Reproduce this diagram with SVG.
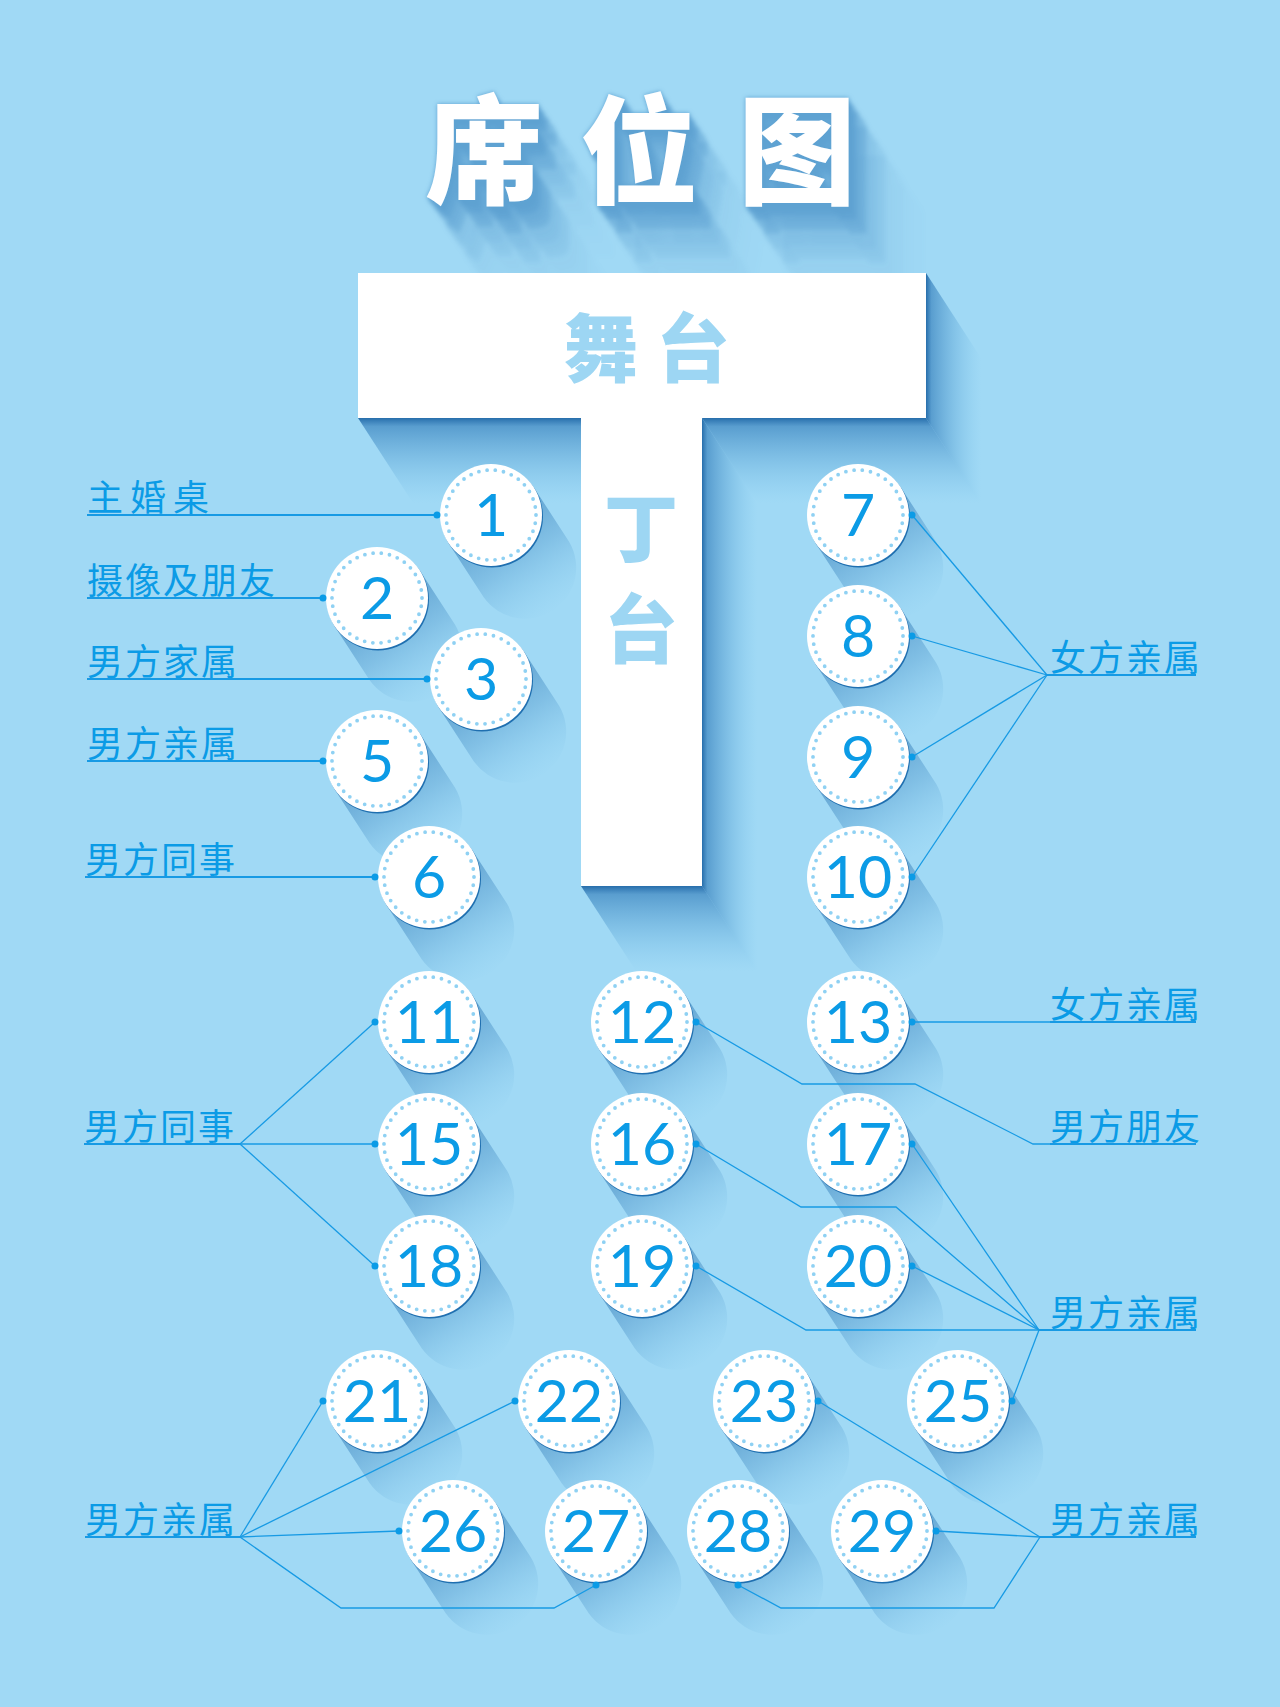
<svg xmlns="http://www.w3.org/2000/svg" xmlns:xlink="http://www.w3.org/1999/xlink" width="1280" height="1707" viewBox="0 0 1280 1707">
<defs>
<style>
.face{fill:#ffffff}
.rim{fill:#1f6fb0}
.ring{fill:none;stroke:#8fd1f3;stroke-width:3.8;stroke-linecap:round;stroke-dasharray:0 8.31}
.num{font-family:Lato,"Liberation Sans",sans-serif;font-weight:400;font-size:59px;fill:#0b9be6;text-anchor:middle}
.lab{font-family:"Noto Sans CJK SC","Noto Sans",sans-serif;font-size:36px;fill:#0b9be6;letter-spacing:2px}
.ln{fill:none;stroke:#179ae4;stroke-width:1.3}
.ul{stroke-width:1.8}
.dot{fill:#0b9be6}
.deco{font-family:"Noto Sans CJK SC",sans-serif;font-weight:900;fill:#9dd6f3;text-anchor:middle}
.title{font-family:"Noto Sans CJK SC",sans-serif;font-weight:900;font-size:118px;fill:#ffffff;text-anchor:middle}
</style>
<linearGradient id="shV" x1="0" y1="0" x2="0" y2="1">
<stop offset="0" stop-color="#1a62a3" stop-opacity="0.9"/>
<stop offset="0.1" stop-color="#2a76b6" stop-opacity="0.6"/>
<stop offset="1" stop-color="#6ab8e6" stop-opacity="0"/>
</linearGradient>
<linearGradient id="shH" x1="0" y1="0" x2="1" y2="0">
<stop offset="0" stop-color="#1a62a3" stop-opacity="0.9"/>
<stop offset="0.1" stop-color="#2a76b6" stop-opacity="0.6"/>
<stop offset="1" stop-color="#6ab8e6" stop-opacity="0"/>
</linearGradient>
<linearGradient id="csg" gradientUnits="userSpaceOnUse" x1="0" y1="0" x2="63" y2="97">
<stop offset="0" stop-color="#1c66a8" stop-opacity="0.5"/>
<stop offset="0.45" stop-color="#2a78b8" stop-opacity="0.26"/>
<stop offset="1" stop-color="#6ab8e6" stop-opacity="0"/>
</linearGradient>
<path id="csh" fill="url(#csg)" d="M42.7,-27.8 L78.1,26.7 A51,51 0 0 1 -7.3,82.3 L-42.7,27.8 Z"/>
<filter id="longShadow" x="-5%" y="-5%" width="125%" height="180%" color-interpolation-filters="sRGB">
<feOffset in="SourceAlpha" dx="1.2" dy="1.8" result="o1"/>
<feComponentTransfer in="o1" result="s1"><feFuncA type="linear" slope="0.94"/></feComponentTransfer>
<feMerge result="b1"><feMergeNode in="s1"/><feMergeNode in="SourceAlpha"/></feMerge>
<feOffset in="b1" dx="2.4" dy="3.6" result="o2"/>
<feComponentTransfer in="o2" result="s2"><feFuncA type="linear" slope="0.8836"/></feComponentTransfer>
<feMerge result="b2"><feMergeNode in="s2"/><feMergeNode in="b1"/></feMerge>
<feOffset in="b2" dx="4.8" dy="7.2" result="o3"/>
<feComponentTransfer in="o3" result="s3"><feFuncA type="linear" slope="0.7807"/></feComponentTransfer>
<feMerge result="b3"><feMergeNode in="s3"/><feMergeNode in="b2"/></feMerge>
<feOffset in="b3" dx="9.6" dy="14.4" result="o4"/>
<feComponentTransfer in="o4" result="s4"><feFuncA type="linear" slope="0.6096"/></feComponentTransfer>
<feMerge result="b4"><feMergeNode in="s4"/><feMergeNode in="b3"/></feMerge>
<feOffset in="b4" dx="19.2" dy="28.8" result="o5"/>
<feComponentTransfer in="o5" result="s5"><feFuncA type="linear" slope="0.3716"/></feComponentTransfer>
<feMerge result="b5"><feMergeNode in="s5"/><feMergeNode in="b4"/></feMerge>
<feOffset in="b5" dx="38.4" dy="57.6" result="o6"/>
<feComponentTransfer in="o6" result="s6"><feFuncA type="linear" slope="0.138"/></feComponentTransfer>
<feMerge result="b6"><feMergeNode in="s6"/><feMergeNode in="b5"/></feMerge>
<feGaussianBlur in="b6" stdDeviation="2" result="bl"/>
<feFlood flood-color="#2673b4" flood-opacity="0.55" result="fl"/>
<feComposite in="fl" in2="bl" operator="in" result="sh"/>
<feMerge><feMergeNode in="sh"/><feMergeNode in="SourceGraphic"/></feMerge>
</filter>
</defs>

<rect x="0" y="0" width="1280" height="1707" fill="#a0d9f5"/>

<g id="title" filter="url(#longShadow)">
<text class="title" x="484 639 797" y="195">席位图</text>
</g>

<g id="stage">
<polygon fill="url(#shV)" points="358,418 581,418 636,503 413,503"/>
<polygon fill="url(#shV)" points="702,418 926,418 981,503 757,503"/>
<polygon fill="url(#shH)" points="926,273 926,418 981,503 981,358"/>
<polygon fill="url(#shH)" points="702,418 702,886 757,971 757,503"/>
<polygon fill="url(#shV)" points="581,886 702,886 757,971 636,971"/>
<path fill="#ffffff" d="M358,273 H926 V418 H702 V886 H581 V418 H358 Z"/>
<text class="deco" x="601 693" y="376" font-size="74">舞台</text>
<text class="deco" x="641" y="556" font-size="74">丁</text>
<text class="deco" x="641" y="657" font-size="74">台</text>
</g>

<g id="tables">
<g id="t1" transform="translate(491,515)"><use xlink:href="#csh"/><circle class="rim" cx="1" cy="1.5" r="51"/><circle class="face" r="51"/><circle class="ring" r="45"/><text class="num" y="21">1</text></g>
<g id="t2" transform="translate(377,598)"><use xlink:href="#csh"/><circle class="rim" cx="1" cy="1.5" r="51"/><circle class="face" r="51"/><circle class="ring" r="45"/><text class="num" y="21">2</text></g>
<g id="t3" transform="translate(481,679)"><use xlink:href="#csh"/><circle class="rim" cx="1" cy="1.5" r="51"/><circle class="face" r="51"/><circle class="ring" r="45"/><text class="num" y="21">3</text></g>
<g id="t5" transform="translate(377,761)"><use xlink:href="#csh"/><circle class="rim" cx="1" cy="1.5" r="51"/><circle class="face" r="51"/><circle class="ring" r="45"/><text class="num" y="21">5</text></g>
<g id="t6" transform="translate(429,877)"><use xlink:href="#csh"/><circle class="rim" cx="1" cy="1.5" r="51"/><circle class="face" r="51"/><circle class="ring" r="45"/><text class="num" y="21">6</text></g>
<g id="t7" transform="translate(858,515)"><use xlink:href="#csh"/><circle class="rim" cx="1" cy="1.5" r="51"/><circle class="face" r="51"/><circle class="ring" r="45"/><text class="num" y="21">7</text></g>
<g id="t8" transform="translate(858,636)"><use xlink:href="#csh"/><circle class="rim" cx="1" cy="1.5" r="51"/><circle class="face" r="51"/><circle class="ring" r="45"/><text class="num" y="21">8</text></g>
<g id="t9" transform="translate(858,757)"><use xlink:href="#csh"/><circle class="rim" cx="1" cy="1.5" r="51"/><circle class="face" r="51"/><circle class="ring" r="45"/><text class="num" y="21">9</text></g>
<g id="t10" transform="translate(858,877)"><use xlink:href="#csh"/><circle class="rim" cx="1" cy="1.5" r="51"/><circle class="face" r="51"/><circle class="ring" r="45"/><text class="num" y="21">10</text></g>
<g id="t11" transform="translate(429,1022)"><use xlink:href="#csh"/><circle class="rim" cx="1" cy="1.5" r="51"/><circle class="face" r="51"/><circle class="ring" r="45"/><text class="num" y="21">11</text></g>
<g id="t12" transform="translate(642,1022)"><use xlink:href="#csh"/><circle class="rim" cx="1" cy="1.5" r="51"/><circle class="face" r="51"/><circle class="ring" r="45"/><text class="num" y="21">12</text></g>
<g id="t13" transform="translate(858,1022)"><use xlink:href="#csh"/><circle class="rim" cx="1" cy="1.5" r="51"/><circle class="face" r="51"/><circle class="ring" r="45"/><text class="num" y="21">13</text></g>
<g id="t15" transform="translate(429,1144)"><use xlink:href="#csh"/><circle class="rim" cx="1" cy="1.5" r="51"/><circle class="face" r="51"/><circle class="ring" r="45"/><text class="num" y="21">15</text></g>
<g id="t16" transform="translate(642,1144)"><use xlink:href="#csh"/><circle class="rim" cx="1" cy="1.5" r="51"/><circle class="face" r="51"/><circle class="ring" r="45"/><text class="num" y="21">16</text></g>
<g id="t17" transform="translate(858,1144)"><use xlink:href="#csh"/><circle class="rim" cx="1" cy="1.5" r="51"/><circle class="face" r="51"/><circle class="ring" r="45"/><text class="num" y="21">17</text></g>
<g id="t18" transform="translate(429,1266)"><use xlink:href="#csh"/><circle class="rim" cx="1" cy="1.5" r="51"/><circle class="face" r="51"/><circle class="ring" r="45"/><text class="num" y="21">18</text></g>
<g id="t19" transform="translate(642,1266)"><use xlink:href="#csh"/><circle class="rim" cx="1" cy="1.5" r="51"/><circle class="face" r="51"/><circle class="ring" r="45"/><text class="num" y="21">19</text></g>
<g id="t20" transform="translate(858,1266)"><use xlink:href="#csh"/><circle class="rim" cx="1" cy="1.5" r="51"/><circle class="face" r="51"/><circle class="ring" r="45"/><text class="num" y="21">20</text></g>
<g id="t21" transform="translate(377,1401)"><use xlink:href="#csh"/><circle class="rim" cx="1" cy="1.5" r="51"/><circle class="face" r="51"/><circle class="ring" r="45"/><text class="num" y="21">21</text></g>
<g id="t22" transform="translate(569,1401)"><use xlink:href="#csh"/><circle class="rim" cx="1" cy="1.5" r="51"/><circle class="face" r="51"/><circle class="ring" r="45"/><text class="num" y="21">22</text></g>
<g id="t23" transform="translate(764,1401)"><use xlink:href="#csh"/><circle class="rim" cx="1" cy="1.5" r="51"/><circle class="face" r="51"/><circle class="ring" r="45"/><text class="num" y="21">23</text></g>
<g id="t25" transform="translate(958,1401)"><use xlink:href="#csh"/><circle class="rim" cx="1" cy="1.5" r="51"/><circle class="face" r="51"/><circle class="ring" r="45"/><text class="num" y="21">25</text></g>
<g id="t26" transform="translate(453,1531)"><use xlink:href="#csh"/><circle class="rim" cx="1" cy="1.5" r="51"/><circle class="face" r="51"/><circle class="ring" r="45"/><text class="num" y="21">26</text></g>
<g id="t27" transform="translate(596,1531)"><use xlink:href="#csh"/><circle class="rim" cx="1" cy="1.5" r="51"/><circle class="face" r="51"/><circle class="ring" r="45"/><text class="num" y="21">27</text></g>
<g id="t28" transform="translate(738,1531)"><use xlink:href="#csh"/><circle class="rim" cx="1" cy="1.5" r="51"/><circle class="face" r="51"/><circle class="ring" r="45"/><text class="num" y="21">28</text></g>
<g id="t29" transform="translate(882,1531)"><use xlink:href="#csh"/><circle class="rim" cx="1" cy="1.5" r="51"/><circle class="face" r="51"/><circle class="ring" r="45"/><text class="num" y="21">29</text></g>
</g>

<g id="labels">
<g id="lab-zhuhun"><text class="lab" x="87" y="511" style="letter-spacing:7px">主婚桌</text></g>
<g id="lab-sheying"><text class="lab" x="87" y="594">摄像及朋友</text></g>
<g id="lab-nfjs"><text class="lab" x="87" y="675">男方家属</text></g>
<g id="lab-nfqs1"><text class="lab" x="87" y="757">男方亲属</text></g>
<g id="lab-nfts1"><text class="lab" x="85" y="873">男方同事</text></g>
<g id="lab-nfts2"><text class="lab" x="84" y="1140">男方同事</text></g>
<g id="lab-nfqs2"><text class="lab" x="85" y="1533">男方亲属</text></g>
<g id="lab-nvqs1"><text class="lab" x="1050" y="671">女方亲属</text></g>
<g id="lab-nvqs2"><text class="lab" x="1050" y="1018">女方亲属</text></g>
<g id="lab-nfpy"><text class="lab" x="1050" y="1140">男方朋友</text></g>
<g id="lab-nfqs3"><text class="lab" x="1050" y="1326">男方亲属</text></g>
<g id="lab-nfqs4"><text class="lab" x="1050" y="1533">男方亲属</text></g>
</g>

<g id="connectors">
<path class="ln ul" d="M87 515H437"/>
<path class="ln ul" d="M87 598H323"/>
<path class="ln ul" d="M87 679H427"/>
<path class="ln ul" d="M87 761H323"/>
<path class="ln ul" d="M85 877H375"/>
<path class="ln ul" d="M84 1144H240"/>
<path class="ln" d="M240 1144H375"/>
<path class="ln" d="M240 1144L375 1022"/>
<path class="ln" d="M240 1144L375 1266"/>
<path class="ln ul" d="M85 1537H240"/>
<path class="ln" d="M240 1537L323 1401"/>
<path class="ln" d="M240 1537L515 1401"/>
<path class="ln" d="M240 1537L399 1531"/>
<path class="ln" d="M240 1537L341 1608H554L596 1585"/>
<path class="ln ul" d="M1047 675H1196"/>
<path class="ln" d="M1047 675L912 515"/>
<path class="ln" d="M1047 675L912 636"/>
<path class="ln" d="M1047 675L912 757"/>
<path class="ln" d="M1047 675L912 877"/>
<path class="ln" d="M912 1022H1050"/>
<path class="ln ul" d="M1050 1022H1196"/>
<path class="ln" d="M696 1022L802 1084H915L1033 1144H1050"/>
<path class="ln ul" d="M1050 1144H1196"/>
<path class="ln ul" d="M1039 1330H1196"/>
<path class="ln" d="M912 1144L1039 1330"/>
<path class="ln" d="M696 1144L801 1207H896L1039 1330"/>
<path class="ln" d="M912 1266L1039 1330"/>
<path class="ln" d="M696 1266L806 1330H1039"/>
<path class="ln" d="M1012 1401L1039 1330"/>
<path class="ln ul" d="M1040 1537H1196"/>
<path class="ln" d="M818 1401L1040 1537"/>
<path class="ln" d="M936 1531L1040 1537"/>
<path class="ln" d="M738 1585L781 1608H994L1040 1537"/>
<circle class="dot" cx="437" cy="515" r="3.5"/>
<circle class="dot" cx="323" cy="598" r="3.5"/>
<circle class="dot" cx="427" cy="679" r="3.5"/>
<circle class="dot" cx="323" cy="761" r="3.5"/>
<circle class="dot" cx="375" cy="877" r="3.5"/>
<circle class="dot" cx="375" cy="1022" r="3.5"/>
<circle class="dot" cx="375" cy="1144" r="3.5"/>
<circle class="dot" cx="375" cy="1266" r="3.5"/>
<circle class="dot" cx="323" cy="1401" r="3.5"/>
<circle class="dot" cx="515" cy="1401" r="3.5"/>
<circle class="dot" cx="399" cy="1531" r="3.5"/>
<circle class="dot" cx="596" cy="1585" r="3.5"/>
<circle class="dot" cx="912" cy="515" r="3.5"/>
<circle class="dot" cx="912" cy="636" r="3.5"/>
<circle class="dot" cx="912" cy="757" r="3.5"/>
<circle class="dot" cx="912" cy="877" r="3.5"/>
<circle class="dot" cx="912" cy="1022" r="3.5"/>
<circle class="dot" cx="696" cy="1022" r="3.5"/>
<circle class="dot" cx="912" cy="1144" r="3.5"/>
<circle class="dot" cx="696" cy="1144" r="3.5"/>
<circle class="dot" cx="912" cy="1266" r="3.5"/>
<circle class="dot" cx="696" cy="1266" r="3.5"/>
<circle class="dot" cx="1012" cy="1401" r="3.5"/>
<circle class="dot" cx="818" cy="1401" r="3.5"/>
<circle class="dot" cx="936" cy="1531" r="3.5"/>
<circle class="dot" cx="738" cy="1585" r="3.5"/>
</g>
</svg>
